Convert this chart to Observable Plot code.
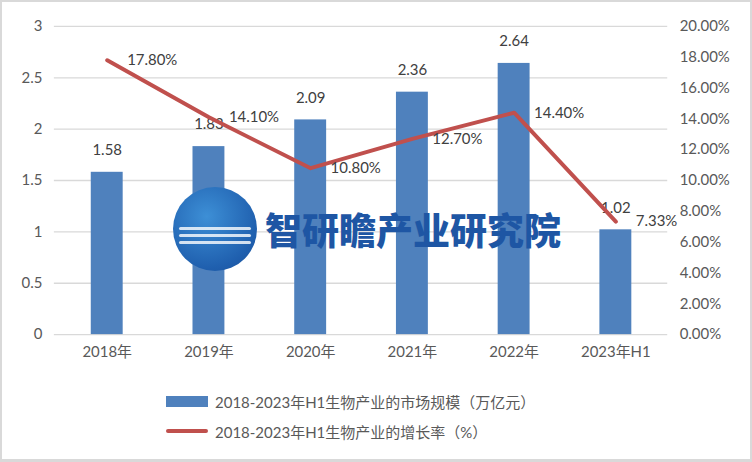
<!DOCTYPE html>
<html><head><meta charset="utf-8">
<script src="https://cdn.jsdelivr.net/npm/d3@7"></script>
<script src="https://cdn.jsdelivr.net/npm/@observablehq/plot@0.6"></script>
<style>
body{margin:0;background:#fff;}
#wrap{position:relative;width:752px;height:462px;box-sizing:border-box;border:2px solid #d9d9d9;border-bottom-width:3px;background:#fff;overflow:hidden;font-family:Lato,"Noto Sans CJK SC",sans-serif;}
#chart{position:absolute;left:-2px;top:-2px;}
#legend{position:absolute;left:164px;top:384px;font-size:15px;color:#595959;}
.row{display:flex;align-items:center;height:30px;}
.sw{width:42px;margin-right:7px;}
#wm{position:absolute;left:171px;top:185px;display:flex;align-items:center;pointer-events:none;}
#logo{position:relative;width:84px;height:84px;border-radius:50%;background:radial-gradient(circle at 40% 35%,#3d8fd6,#1f5fae 70%,#1a4f96);margin-right:8px;overflow:hidden;}
.wave{position:absolute;left:6px;width:72px;height:3px;background:rgba(255,255,255,0.8);border-radius:2px;}
#wmtext{font-family:"Noto Sans CJK SC",sans-serif;font-weight:900;font-size:37px;color:#1e56a4;}
</style></head>
<body>
<div id="wrap">
<div id="chart"></div>
<div id="wm"><div id="logo"><div class="wave" style="top:40px"></div><div class="wave" style="top:47px"></div><div class="wave" style="top:54px"></div></div><div id="wmtext">智研瞻产业研究院</div></div>
<div id="legend">
 <div class="row"><div class="sw" style="height:11px;background:#4f81bd"></div><span>2018-2023年H1生物产业的市场规模（万亿元）</span></div>
 <div class="row"><div class="sw" style="height:4px;background:#c0504d;border-radius:2px"></div><span>2018-2023年H1生物产业的增长率（%）</span></div>
</div>
</div>
<script>
const categories = ["2018年","2019年","2020年","2021年","2022年","2023年H1"];
const marketSize = [1.58, 1.83, 2.09, 2.36, 2.64, 1.02];
const growthRate = [17.80, 14.10, 10.80, 12.70, 14.40, 7.33];
const leftTicks = [0, 0.5, 1, 1.5, 2, 2.5, 3];
const rightTicks = [0, 2, 4, 6, 8, 10, 12, 14, 16, 18, 20];

const leftMax = 3, rightMax = 20;
const toLeft = p => p / rightMax * leftMax;
const data = categories.map((c, i) => ({c, v: marketSize[i], g: growthRate[i], gy: toLeft(growthRate[i])}));

const font = 'Lato,"Noto Sans CJK SC",sans-serif';
const plot = Plot.plot({
  width: 752, height: 379,
  marginLeft: 54, marginRight: 83, marginTop: 26, marginBottom: 44,
  style: {fontFamily: font, fontSize: "15px", color: "#595959", background: "transparent"},
  x: {domain: categories, paddingInner: 0.69, paddingOuter: 0.345, label: null},
  y: {domain: [0, leftMax], label: null},
  marks: [
    Plot.ruleY(leftTicks, {stroke: "#d9d9d9", strokeWidth: 1.3}),
    Plot.axisY(leftTicks, {anchor: "left", tickSize: 0, tickPadding: 12, label: null, fontSize: 15, fill: "#595959", tickFormat: d => String(d)}),
    Plot.axisY(rightTicks.map(toLeft), {anchor: "right", tickSize: 0, tickPadding: 12, label: null, fontSize: 15, fill: "#595959", tickFormat: d => (d / leftMax * rightMax).toFixed(2) + "%"}),
    Plot.axisX({tickSize: 0, tickPadding: 12, label: null, fontSize: 15, fill: "#595959"}),
    Plot.barY(data, {x: "c", y: "v", fill: "#4f81bd"}),
    Plot.text(data, {x: "c", y: "v", text: d => d.v.toFixed(2), dy: -22, fontSize: 15, fill: "#404040"}),
    Plot.line(data, {x: "c", y: "gy", stroke: "#c0504d", strokeWidth: 4, strokeLinecap: "round"}),
    Plot.text(data, {x: "c", y: "gy", text: d => d.g.toFixed(2) + "%", dx: 20, dy: 0, textAnchor: "start", fontSize: 15, fill: "#404040"})
  ]
});
document.getElementById("chart").appendChild(plot);
</script>
</body></html>
